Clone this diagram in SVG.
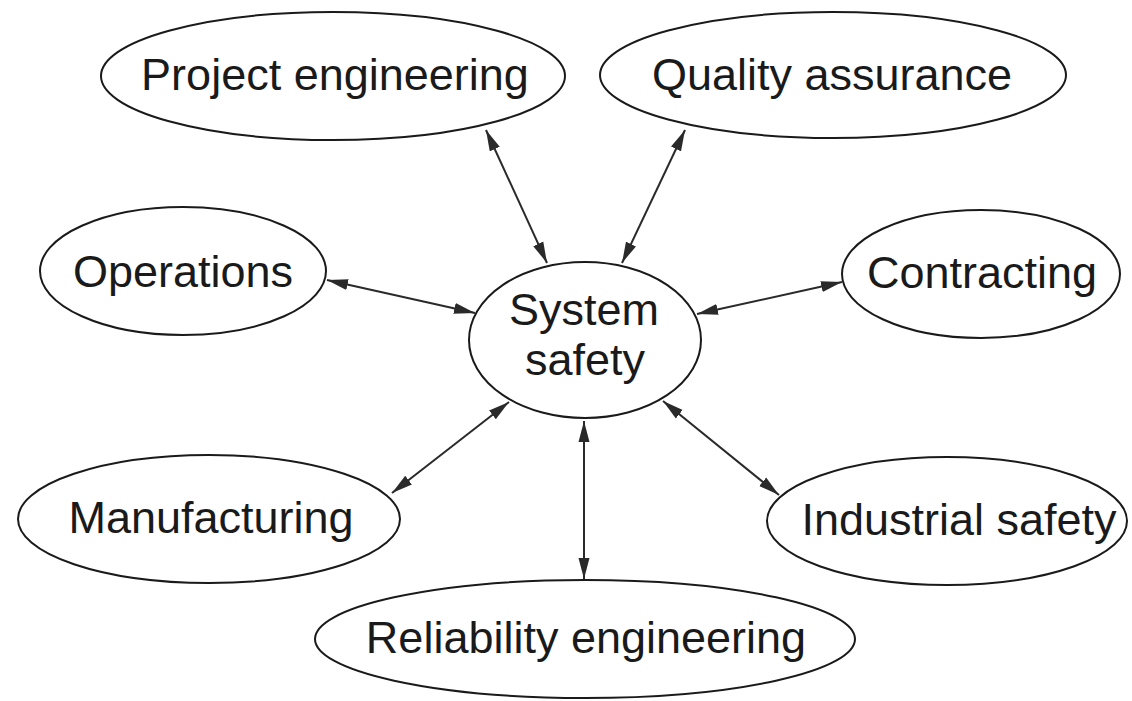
<svg xmlns="http://www.w3.org/2000/svg" width="1132" height="701" viewBox="0 0 1132 701">
<style>
.node ellipse{fill:#fff;stroke:#1a1a1a;stroke-width:2}
.node text{font-family:"Liberation Sans",Arial,Helvetica,sans-serif;font-size:45px;fill:#1a1a1a;text-anchor:middle}
.edge line{stroke:#2a2a2a;stroke-width:2;marker-start:url(#ah);marker-end:url(#ah)}
</style>
<defs>
<marker id="ah" markerUnits="userSpaceOnUse" markerWidth="22" markerHeight="12" refX="21" refY="5.5" orient="auto-start-reverse" viewBox="0 0 22 11">
<path d="M0,0 L21,5.5 L0,11 z" fill="#2a2a2a"/>
</marker>
</defs>
<rect width="1132" height="701" fill="#fff"/>
<g id="connectors" class="edge">
<line x1="486" y1="130" x2="547" y2="263"/>
<line x1="685" y1="130" x2="622" y2="263"/>
<line x1="327" y1="280" x2="475" y2="313"/>
<line x1="842" y1="282" x2="697" y2="314"/>
<line x1="392" y1="493" x2="509" y2="402"/>
<line x1="584" y1="421" x2="584" y2="579"/>
<line x1="663" y1="401" x2="779" y2="495"/>
</g>
<g id="system-safety" class="node">
<ellipse cx="585" cy="340" rx="116" ry="78"/>
<text x="584" y="325">System</text>
<text x="585" y="375">safety</text>
</g>
<g id="project-engineering" class="node">
<ellipse cx="333" cy="76" rx="232" ry="64"/>
<text x="335" y="90">Project engineering</text>
</g>
<g id="quality-assurance" class="node">
<ellipse cx="833" cy="75" rx="233" ry="63"/>
<text x="832" y="90">Quality assurance</text>
</g>
<g id="operations" class="node">
<ellipse cx="183" cy="271" rx="143" ry="64"/>
<text x="183" y="287">Operations</text>
</g>
<g id="contracting" class="node">
<ellipse cx="981" cy="274" rx="139" ry="64"/>
<text x="982" y="288">Contracting</text>
</g>
<g id="manufacturing" class="node">
<ellipse cx="209" cy="519" rx="191" ry="64"/>
<text x="211" y="533">Manufacturing</text>
</g>
<g id="industrial-safety" class="node">
<ellipse cx="947" cy="521" rx="180" ry="64"/>
<text x="959" y="535">Industrial safety</text>
</g>
<g id="reliability-engineering" class="node">
<ellipse cx="585" cy="639" rx="270" ry="59"/>
<text x="586" y="653">Reliability engineering</text>
</g>
</svg>
